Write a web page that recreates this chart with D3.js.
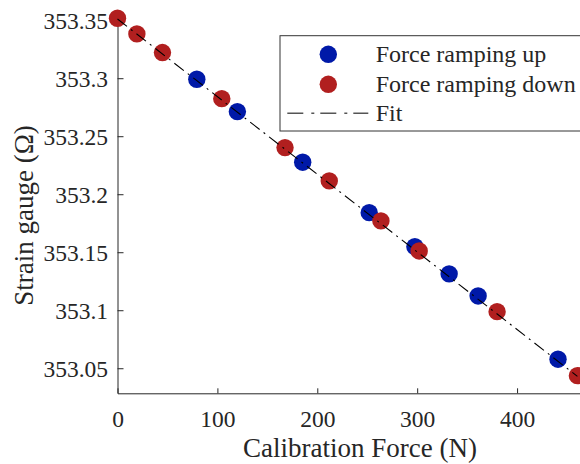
<!DOCTYPE html>
<html>
<head>
<meta charset="utf-8">
<title>Calibration</title>
<style>
  body { margin: 0; background: #fff; }
  text { font-family: "Liberation Serif", "Times New Roman", Times, serif; fill: #262626; }
</style>
</head>
<body>
<svg width="580" height="464"></svg>
<script src="https://cdn.jsdelivr.net/npm/d3@7"></script>
<script>
  // force ramping up (blue)
  var upForce = [79.4, 120, 185.4, 252, 297.7, 332, 361, 441];
  var upOhm = [353.2991, 353.2712, 353.2276, 353.1841, 353.1548, 353.1313, 353.1123, 353.0578];
  // force ramping down (red)
  var downForce = [0, 19.4, 45, 104.4, 167.7, 212, 263.7, 302, 380, 460.4];
  var downOhm = [353.3517, 353.3382, 353.3221, 353.2824, 353.2402, 353.2115, 353.177, 353.1511, 353.0988, 353.0436];
  // linear fit endpoints
  var fitForce = [0, 460.4];
  var fitOhm = [353.3510, 353.0430];

  var xTicks = [0, 100, 200, 300, 400];
  var yTicks = [353.05, 353.1, 353.15, 353.2, 353.25, 353.3, 353.35];
  var legendLabels = ["Force ramping up", "Force ramping down", "Fit"];

  var blue = "#0019a8", red = "#b11f1f";

  var svg = d3.select("svg"),
    margin = { top: 17.3, right: 0, bottom: 70.7, left: 117.5 },
    width = +svg.attr("width") - margin.left - margin.right,
    height = +svg.attr("height") - margin.top - margin.bottom;

  var x = d3.scaleLinear().domain([0, 463]).range([0, width]),
    y = d3.scaleLinear().domain([353.0284, 353.3525]).range([height, 0]);

  var g = svg.append("g")
    .attr("transform", "translate(" + margin.left + "," + margin.top + ")");

  var xAxis = g.append("g")
    .attr("transform", "translate(0," + height + ")")
    .call(d3.axisBottom(x).tickValues(xTicks).tickSizeInner(-5).tickSizeOuter(0));

  var yAxis = g.append("g")
    .call(d3.axisLeft(y).tickValues(yTicks).tickFormat(d3.format("")).tickSizeInner(-6).tickSizeOuter(0));

  [xAxis, yAxis].forEach(function(a) {
    a.attr("font-family", null);
    a.selectAll("path, line").attr("stroke", "#262626").attr("stroke-width", 1);
    a.selectAll("text").attr("font-size", 23.5).attr("fill", "#262626");
  });
  xAxis.selectAll("text").attr("y", 33.7).attr("dy", 0);
  yAxis.selectAll("text").attr("x", -9.5).attr("dy", "0.34em");

  // blue first, red on top
  g.selectAll(".up")
    .data(upForce)
    .enter().append("circle")
    .attr("class", "up")
    .attr("cx", function(d) { return x(d); })
    .attr("cy", function(d, i) { return y(upOhm[i]); })
    .attr("r", 8.7)
    .attr("fill", blue);

  g.selectAll(".down")
    .data(downForce)
    .enter().append("circle")
    .attr("class", "down")
    .attr("cx", function(d) { return x(d); })
    .attr("cy", function(d, i) { return y(downOhm[i]); })
    .attr("r", 8.7)
    .attr("fill", red);

  var line = d3.line()
    .x(function(d) { return x(d); })
    .y(function(d, i) { return y(fitOhm[i]); });

  g.append("path")
    .datum(fitForce)
    .attr("d", line)
    .attr("fill", "none")
    .attr("stroke", "#000")
    .attr("stroke-width", 1.1)
    .attr("stroke-dasharray", "12,5,2,5");

  // axis labels
  svg.append("text")
    .attr("x", 360)
    .attr("y", 457)
    .attr("text-anchor", "middle")
    .attr("font-size", 27)
    .text("Calibration Force (N)");

  svg.append("text")
    .attr("transform", "translate(33,215.5) rotate(-90)")
    .attr("text-anchor", "middle")
    .attr("font-size", 27)
    .text("Strain gauge (\u03a9)");

  // legend
  var lg = svg.append("g").attr("transform", "translate(280,35.7)");
  lg.append("rect")
    .attr("width", 310)
    .attr("height", 95.3)
    .attr("fill", "#fff")
    .attr("stroke", "#333")
    .attr("stroke-width", 1);

  var rowY = [18.6, 48.6, 77.6];
  lg.append("circle").attr("cx", 48.3).attr("cy", rowY[0]).attr("r", 8.7).attr("fill", blue);
  lg.append("circle").attr("cx", 48.3).attr("cy", rowY[1]).attr("r", 8.7).attr("fill", red);
  lg.append("line")
    .attr("x1", 7.3).attr("x2", 88.3)
    .attr("y1", rowY[2]).attr("y2", rowY[2])
    .attr("stroke", "#555")
    .attr("stroke-width", 1.5)
    .attr("stroke-dasharray", "16,8,3,6");

  lg.selectAll(".lbl")
    .data(legendLabels)
    .enter().append("text")
    .attr("class", "lbl")
    .attr("x", 95.7)
    .attr("y", function(d, i) { return rowY[i]; })
    .attr("dy", "0.34em")
    .attr("font-size", 24)
    .attr("fill", "#000")
    .text(function(d) { return d; });
</script>
</body>
</html>
